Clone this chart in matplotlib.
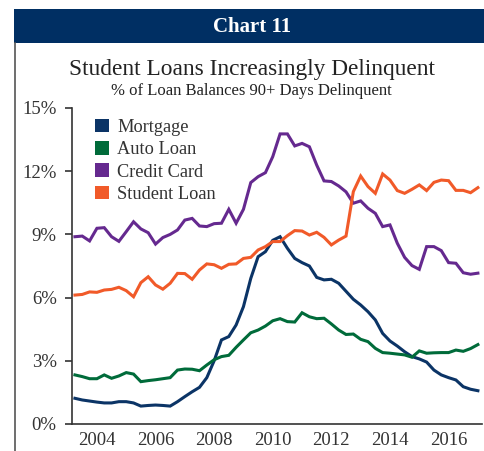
import matplotlib
matplotlib.use("Agg")
import matplotlib.pyplot as plt
from matplotlib.patches import Rectangle
from matplotlib.lines import Line2D
import numpy as np

plt.rcParams['font.family'] = ['Liberation Serif', 'DejaVu Serif']

# quarterly, 2003Q1 .. 2016Q4 (plotted at end of quarter)
quarters = [2003 + (i + 1) / 4 for i in range(56)]

mortgage = [1.22, 1.14, 1.09, 1.04, 1.00, 1.00, 1.06, 1.06, 1.00, 0.85,
            0.88, 0.90, 0.88, 0.85, 1.06, 1.30, 1.53, 1.74, 2.20, 3.00,
            3.99, 4.15, 4.70, 5.57, 6.91, 7.94, 8.18, 8.72, 8.89, 8.34,
            7.86, 7.66, 7.50, 6.96, 6.84, 6.87, 6.68, 6.30, 5.92, 5.65,
            5.33, 4.94, 4.30, 3.94, 3.70, 3.43, 3.20, 3.09, 2.94, 2.56,
            2.33, 2.20, 2.09, 1.77, 1.65, 1.58]
auto_loan = [2.33, 2.25, 2.15, 2.15, 2.33, 2.17, 2.28, 2.44, 2.37, 2.01,
             2.06, 2.10, 2.15, 2.20, 2.56, 2.61, 2.60, 2.53, 2.80, 3.05,
             3.20, 3.26, 3.64, 3.99, 4.33, 4.46, 4.65, 4.90, 5.00, 4.86,
             4.84, 5.28, 5.09, 5.00, 5.02, 4.75, 4.46, 4.25, 4.27, 4.02,
             3.91, 3.59, 3.39, 3.36, 3.32, 3.28, 3.17, 3.47, 3.36, 3.38,
             3.39, 3.39, 3.51, 3.45, 3.58, 3.77]
credit_card = [8.89, 8.92, 8.69, 9.29, 9.32, 8.89, 8.67, 9.13, 9.60, 9.26,
               9.08, 8.54, 8.85, 9.00, 9.21, 9.68, 9.76, 9.40, 9.37, 9.51,
               9.53, 10.19, 9.53, 10.19, 11.46, 11.74, 11.93, 12.69, 13.77, 13.77,
               13.20, 13.32, 13.16, 12.29, 11.54, 11.51, 11.30, 11.02, 10.48, 10.59,
               10.24, 10.00, 9.37, 9.45, 8.58, 7.91, 7.52, 7.34, 8.42, 8.42,
               8.23, 7.66, 7.63, 7.18, 7.11, 7.16]
student_loan = [6.12, 6.15, 6.27, 6.25, 6.36, 6.39, 6.49, 6.33, 6.04, 6.71,
                6.99, 6.60, 6.40, 6.68, 7.15, 7.14, 6.87, 7.31, 7.60, 7.56,
                7.39, 7.58, 7.60, 7.86, 7.91, 8.26, 8.42, 8.66, 8.66, 8.94,
                9.18, 9.16, 8.97, 9.10, 8.86, 8.50, 8.73, 8.92, 11.03, 11.77,
                11.27, 10.95, 11.87, 11.58, 11.08, 10.95, 11.14, 11.35, 11.08, 11.47,
                11.58, 11.55, 11.09, 11.09, 10.98, 11.22]

series = [("Mortgage", mortgage, "#0b3466"),
          ("Auto Loan", auto_loan, "#006b3a"),
          ("Credit Card", credit_card, "#65298f"),
          ("Student Loan", student_loan, "#f15a29")]

fig = plt.figure(figsize=(4.84, 4.51), dpi=100)

# header banner and frame line
fig.patches.append(Rectangle((14 / 484, 1 - 43 / 451), 1 - 14 / 484, 34 / 451,
                             transform=fig.transFigure, facecolor="#002f63",
                             edgecolor="none"))
fig.text(0.52, 1 - 27 / 451, "Chart 11", color="white", fontsize=15,
         fontweight="bold", ha="center", va="center")
fig.add_artist(Line2D([15 / 484, 15 / 484], [0, 1 - 43 / 451],
                      transform=fig.transFigure, color="#555555", lw=1.2))

fig.text(0.52, 1 - 70 / 451, "Student Loans Increasingly Delinquent",
         fontsize=16.8, ha="center", va="center", color="#222222")
fig.text(0.52, 1 - 91 / 451, "% of Loan Balances 90+ Days Delinquent",
         fontsize=12, ha="center", va="center", color="#222222")

ax = fig.add_axes([72 / 484, 1 - 424 / 451, 410 / 484, 316 / 451])
for name, vals, col in series:
    ax.plot(quarters, vals, color=col, lw=2.2, label=name,
            solid_joinstyle="miter")

ax.set_xlim(2003.15, 2017.14)
ax.set_ylim(0, 15)
ax.set_yticks([0, 3, 6, 9, 12, 15])
ax.set_yticklabels(["0%", "3%", "6%", "9%", "12%", "15%"])
ax.set_xticks(range(2004, 2017, 2))
ax.tick_params(axis="y", length=5, width=1.2, color="#333333", pad=6,
               labelsize=13.5, labelcolor="#333333")
ax.tick_params(axis="x", length=0, pad=6, labelsize=13.5, labelcolor="#333333")
for s in ("top", "right"):
    ax.spines[s].set_visible(False)
for s in ("left", "bottom"):
    ax.spines[s].set_color("#333333")
    ax.spines[s].set_linewidth(1.2)

handles = [Rectangle((0, 0), 1, 1, facecolor=c, edgecolor="none") for _, _, c in series]
leg = ax.legend(handles, [n for n, _, _ in series], loc="upper left",
                bbox_to_anchor=(0.03, 1.0), frameon=False, fontsize=13.2,
                handlelength=0.75, handleheight=0.75, handletextpad=0.45,
                labelspacing=0.28, borderaxespad=0.2)
for t in leg.get_texts():
    t.set_color("#333333")

fig.savefig("out.png", dpi=100)
